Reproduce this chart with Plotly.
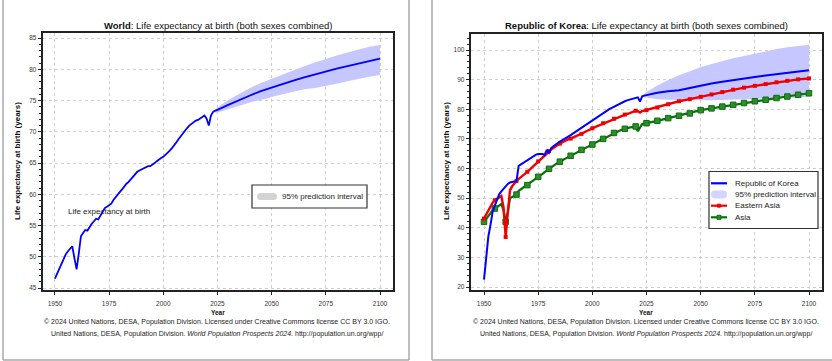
import plotly.graph_objects as go

W, H = 832, 361
FONT = "Liberation Sans, Arial, sans-serif"

# ---------------- data ----------------
years_hist = list(range(1950, 2025))
years_proj = list(range(2025, 2101, 5))
years = years_hist + years_proj

world_le = [
    46.5, 47.3, 48.2, 48.9, 49.9, 50.4, 50.9, 51.3, 51.7, 49.8,
    48.0, 50.5, 53.3, 53.8, 54.3, 54.2, 54.8, 55.3, 55.7, 56.1,
    56.0, 56.6, 57.2, 57.8, 58.0, 58.3, 58.5, 59.1, 59.6, 60.1,
    60.4, 60.8, 61.3, 61.7, 62.0, 62.4, 62.9, 63.3, 63.6, 63.8,
    64.0, 64.2, 64.4, 64.5, 64.5, 64.7, 65.0, 65.3, 65.6, 65.8,
    66.0, 66.3, 66.6, 67.0, 67.4, 67.8, 68.3, 68.8, 69.3, 69.8,
    70.2, 70.6, 71.0, 71.3, 71.6, 71.8, 71.9, 72.1, 72.3, 72.6,
    72.1, 71.0, 72.6, 73.2, 73.4,
    73.5, 74.3, 75.1, 75.8, 76.5, 77.1, 77.7, 78.2, 78.7, 79.2,
    79.6, 80.1, 80.5, 80.9, 81.3, 81.7,
]

band_years = [2023, 2025, 2030, 2035, 2040, 2045, 2050, 2055, 2060, 2065,
              2070, 2075, 2080, 2085, 2090, 2095, 2100]
world_upper = [73.3, 73.9, 75.1, 76.1, 77.0, 77.8, 78.5, 79.2, 79.9, 80.5,
               81.1, 81.7, 82.2, 82.7, 83.2, 83.6, 83.9]
world_lower = [73.1, 73.1, 73.6, 74.2, 74.7, 75.1, 75.6, 76.0, 76.4, 76.8,
               77.0, 77.3, 77.7, 78.1, 78.5, 78.8, 79.1]

korea_le = [
    22.5, 30.0, 37.0, 41.0, 45.5, 47.5, 49.7, 51.3, 52.3, 53.2,
    54.0, 54.8, 55.3, 55.5, 55.5, 55.8, 60.9, 61.4, 61.9, 62.5,
    63.0, 63.4, 63.9, 64.3, 64.7, 64.9, 65.0, 64.9, 64.6, 66.3,
    65.3, 66.9, 67.5, 68.1, 68.7, 69.1, 69.5, 69.9, 70.3, 70.8,
    71.3, 71.8, 72.3, 72.8, 73.2, 73.6, 74.1, 74.6, 75.1, 75.6,
    76.2, 76.7, 77.2, 77.7, 78.3, 78.9, 79.3, 79.7, 80.1, 80.5,
    80.9, 81.3, 81.6, 82.0, 82.3, 82.7, 83.0, 83.2, 83.4, 83.5,
    83.9, 84.0, 82.6, 84.4, 84.6,
    84.8, 85.6, 86.1, 86.4, 87.2, 88.0, 88.7, 89.3, 89.9, 90.4,
    90.9, 91.4, 91.9, 92.4, 92.8, 93.2,
]
korea_upper = [84.6, 85.8, 88.0, 89.9, 91.5, 92.9, 94.2, 95.3, 96.3, 97.2,
               98.0, 98.8, 99.6, 100.3, 100.9, 101.4, 101.8]
korea_lower = [84.2, 84.0, 83.4, 83.2, 83.1, 83.0, 83.0, 83.0, 83.1, 83.2,
               83.3, 83.5, 83.6, 83.8, 83.9, 84.0, 84.2]

eastern_asia_le = [
    43.1, 44.5, 46.0, 47.2, 48.5, 49.3, 49.8, 50.3, 50.7, 47.0,
    36.9, 45.0, 52.7, 54.0, 55.0, 55.8, 56.5, 57.2, 57.8, 58.3,
    58.9, 59.6, 60.3, 61.0, 61.7, 62.4, 63.1, 63.8, 64.6, 65.3,
    65.9, 66.4, 66.9, 67.5, 68.0, 68.4, 68.8, 69.2, 69.6, 69.9,
    70.1, 70.4, 70.7, 71.0, 71.3, 71.7, 72.1, 72.5, 72.9, 73.3,
    73.6, 73.9, 74.2, 74.5, 74.9, 75.3, 75.6, 75.9, 76.2, 76.5,
    76.8, 77.1, 77.4, 77.7, 78.0, 78.2, 78.4, 78.6, 78.9, 79.2,
    79.5, 79.4, 78.9, 79.4, 79.6,
    79.7, 80.6, 81.7, 82.7, 83.4, 84.2, 85.0, 85.8, 86.6, 87.3,
    87.9, 88.5, 89.1, 89.6, 90.1, 90.4,
]

asia_le = [
    42.0, 43.0, 44.0, 45.0, 45.9, 46.5, 47.0, 47.5, 48.0, 46.0,
    42.0, 45.5, 49.9, 50.4, 50.8, 51.2, 52.5, 53.0, 53.6, 54.0,
    54.4, 54.9, 55.5, 56.1, 56.7, 57.2, 57.7, 58.2, 58.8, 59.4,
    59.9, 60.4, 60.9, 61.4, 61.9, 62.3, 62.7, 63.1, 63.5, 63.9,
    64.3, 64.7, 65.1, 65.5, 65.9, 66.3, 66.7, 67.1, 67.5, 67.8,
    68.1, 68.5, 68.9, 69.3, 69.7, 70.0, 70.4, 70.8, 71.2, 71.6,
    72.0, 72.3, 72.6, 72.9, 73.2, 73.4, 73.6, 73.8, 74.0, 74.2,
    74.2, 72.6, 74.0, 75.0, 75.2,
    75.3, 76.1, 77.0, 77.8, 78.6, 79.7, 80.3, 80.9, 81.5, 82.1,
    82.7, 83.2, 83.8, 84.3, 84.9, 85.4,
]

x_tick_vals = [1950, 1975, 2000, 2025, 2050, 2075, 2100]
world_y_ticks = [45, 50, 55, 60, 65, 70, 75, 80, 85]
korea_y_ticks = [20, 30, 40, 50, 60, 70, 80, 90, 100]

# ---------------- helpers ----------------
def px(x):
    return x / W


def py(y):
    return 1 - y / H


BLUE = "#0000ff"
RED = "#f00000"
GREEN = "#087008"
BAND = "rgba(196,196,255,0.95)"

# 5-year marker subset (taken from the series above)
mark_years = [y for y in years if y % 5 == 0]
ea_marks = [v for y, v in zip(years, eastern_asia_le) if y % 5 == 0]
asia_marks = [v for y, v in zip(years, asia_le) if y % 5 == 0]

fig = go.Figure()

# World band + line
fig.add_trace(go.Scatter(x=band_years, y=world_upper, mode="lines", line=dict(width=0),
                         showlegend=False, hoverinfo="skip", xaxis="x", yaxis="y"))
fig.add_trace(go.Scatter(x=band_years, y=world_lower, mode="lines", line=dict(width=0),
                         fill="tonexty", fillcolor=BAND, showlegend=False,
                         hoverinfo="skip", xaxis="x", yaxis="y"))
fig.add_trace(go.Scatter(x=years, y=world_le, mode="lines", line=dict(color=BLUE, width=1.8),
                         showlegend=False, xaxis="x", yaxis="y"))

# Korea band + lines
fig.add_trace(go.Scatter(x=band_years, y=korea_upper, mode="lines", line=dict(width=0),
                         showlegend=False, hoverinfo="skip", xaxis="x2", yaxis="y2"))
fig.add_trace(go.Scatter(x=band_years, y=korea_lower, mode="lines", line=dict(width=0),
                         fill="tonexty", fillcolor=BAND, showlegend=False,
                         hoverinfo="skip", xaxis="x2", yaxis="y2"))
fig.add_trace(go.Scatter(x=years, y=asia_le, mode="lines",
                         line=dict(color=GREEN, width=2.2),
                         showlegend=False, xaxis="x2", yaxis="y2"))
fig.add_trace(go.Scatter(x=mark_years, y=asia_marks, mode="markers",
                         marker=dict(symbol="square", size=5.5, color="#2e8b2e",
                                     line=dict(color=GREEN, width=1)),
                         showlegend=False, xaxis="x2", yaxis="y2"))
fig.add_trace(go.Scatter(x=years, y=eastern_asia_le, mode="lines",
                         line=dict(color=RED, width=2.4),
                         showlegend=False, xaxis="x2", yaxis="y2"))
fig.add_trace(go.Scatter(x=mark_years, y=ea_marks, mode="markers",
                         marker=dict(symbol="square", size=4, color=RED),
                         showlegend=False, xaxis="x2", yaxis="y2"))
fig.add_trace(go.Scatter(x=years, y=korea_le, mode="lines", line=dict(color=BLUE, width=2),
                         showlegend=False, xaxis="x2", yaxis="y2"))

tickfont = dict(family=FONT, size=6.5, color="#333333")
common_x = dict(tickvals=x_tick_vals, ticks="outside", ticklen=3, tickcolor="#222",
                showline=True, linecolor="#222", linewidth=1.5, mirror=True,
                showgrid=True, gridcolor="#cfcfcf", griddash="dot", gridwidth=1,
                zeroline=False, tickfont=tickfont, ticklabelstandoff=3)
common_y = dict(ticks="outside", ticklen=3.5, tickcolor="#222",
                showline=True, linecolor="#222", linewidth=1.5, mirror=True,
                showgrid=True, gridcolor="#cfcfcf", griddash="dot", gridwidth=1,
                zeroline=False, tickfont=tickfont)

fig.update_layout(
    width=W, height=H, margin=dict(l=0, r=0, t=0, b=0),
    paper_bgcolor="white", plot_bgcolor="white", showlegend=False,
    font=dict(family=FONT, color="#111"),
    xaxis=dict(domain=[px(43), px(393)], range=[1944.5, 2106], anchor="y", **common_x),
    yaxis=dict(domain=[py(290), py(33)], range=[44.7, 85.8], anchor="x",
               tickvals=world_y_ticks,
               minor=dict(dtick=1, ticks="outside", ticklen=2, tickcolor="#222", showgrid=False),
               **common_y),
    xaxis2=dict(domain=[px(471), px(822)], range=[1944.0, 2106.0], anchor="y2", **common_x),
    yaxis2=dict(domain=[py(290), py(34)], range=[19.0, 105.4], anchor="x2",
                tickvals=korea_y_ticks,
                minor=dict(dtick=2, ticks="outside", ticklen=2, tickcolor="#222", showgrid=False),
                **common_y),
)

ann = []


def text(x, y, s, size, xanchor="center", angle=0, color="#111"):
    ann.append(dict(x=px(x), y=py(y), xref="paper", yref="paper", text=s, showarrow=False,
                    xanchor=xanchor, yanchor="middle", textangle=angle,
                    font=dict(family=FONT, size=size, color=color)))


# titles
text(218, 26, "<b>World</b>: Life expectancy at birth (both sexes combined)", 9.5)
text(646, 26, "<b>Republic of Korea</b>: Life expectancy at birth (both sexes combined)", 9.5)
# axis titles
text(17, 161, "<b>Life expectancy at birth (years)</b>", 8, angle=-90)
text(446, 161, "<b>Life expectancy at birth (years)</b>", 8, angle=-90)
text(218, 312, "<b>Year</b>", 6.5)
text(646, 312, "<b>Year</b>", 6.5)
# footers
foot1 = "© 2024 United Nations, DESA, Population Division. Licensed under Creative Commons license CC BY 3.0 IGO."
foot2 = "United Nations, DESA, Population Division. <i>World Population Prospects 2024</i>. http://population.un.org/wpp/"
for cx in (217, 646):
    text(cx, 322, foot1, 7, color="#222")
    text(cx, 333.5, foot2, 7, color="#222")
# in-plot label
text(109, 211, "Life expectancy at birth", 8, color="#222")

shapes = []
GRAYB = "#a8a8a8"
# panel borders
for (x0, y0, x1, y1) in [(3, 0, 3, 360), (409, 0, 409, 360), (3, 360, 409, 360),
                         (432, 0, 432, 360), (432, 360, 832, 360)]:
    shapes.append(dict(type="line", xref="paper", yref="paper", x0=px(x0), y0=py(y0),
                       x1=px(x1), y1=py(y1), line=dict(color=GRAYB, width=1.5)))


def rrect(x0, y0, x1, y1, color):
    r = (y1 - y0) / 2
    p = (f"M{px(x0 + r)},{py(y0)} L{px(x1 - r)},{py(y0)} Q{px(x1)},{py(y0)} {px(x1)},{py(y0 + r)} "
         f"Q{px(x1)},{py(y1)} {px(x1 - r)},{py(y1)} L{px(x0 + r)},{py(y1)} "
         f"Q{px(x0)},{py(y1)} {px(x0)},{py(y0 + r)} Q{px(x0)},{py(y0)} {px(x0 + r)},{py(y0)} Z")
    shapes.append(dict(type="path", xref="paper", yref="paper", path=p, fillcolor=color,
                       line=dict(width=0)))


def box(x0, y0, x1, y1):
    shapes.append(dict(type="rect", xref="paper", yref="paper", x0=px(x0), y0=py(y0),
                       x1=px(x1), y1=py(y1), line=dict(color="#333", width=1.2),
                       fillcolor="white", layer="above"))


def hline(x0, x1, y, color, w=2.2):
    shapes.append(dict(type="line", xref="paper", yref="paper", x0=px(x0), y0=py(y),
                       x1=px(x1), y1=py(y), line=dict(color=color, width=w)))


def sq(cx, cy, s, color, lc=None):
    shapes.append(dict(type="rect", xref="paper", yref="paper", x0=px(cx - s / 2), y0=py(cy - s / 2),
                       x1=px(cx + s / 2), y1=py(cy + s / 2), fillcolor=color,
                       line=dict(color=lc or color, width=1)))


# left legend
box(252, 185, 367, 208)
rrect(257, 193, 277, 200, "#d3d3d3")
text(280, 196.5, "95% prediction interval", 8, xanchor="left", color="#222")

# right legend
box(709, 171.5, 818, 228.5)
hline(711, 727, 183.3, BLUE)
text(732.5, 183.3, "Republic of Korea", 8, xanchor="left", color="#222")
rrect(711, 190.5, 727, 198.5, "#d4d4ff")
text(732.5, 194.5, "95% prediction interval", 8, xanchor="left", color="#222")
hline(711, 727, 205.7, RED)
sq(719, 205.7, 3, RED)
text(732.5, 205.7, "Eastern Asia", 8, xanchor="left", color="#222")
hline(711, 727, 217.3, GREEN)
sq(719, 217.3, 4, "#2e8b2e", GREEN)
text(732.5, 217.3, "Asia", 8, xanchor="left", color="#222")

fig.update_layout(annotations=ann, shapes=shapes)
fig.write_html("out.html")
